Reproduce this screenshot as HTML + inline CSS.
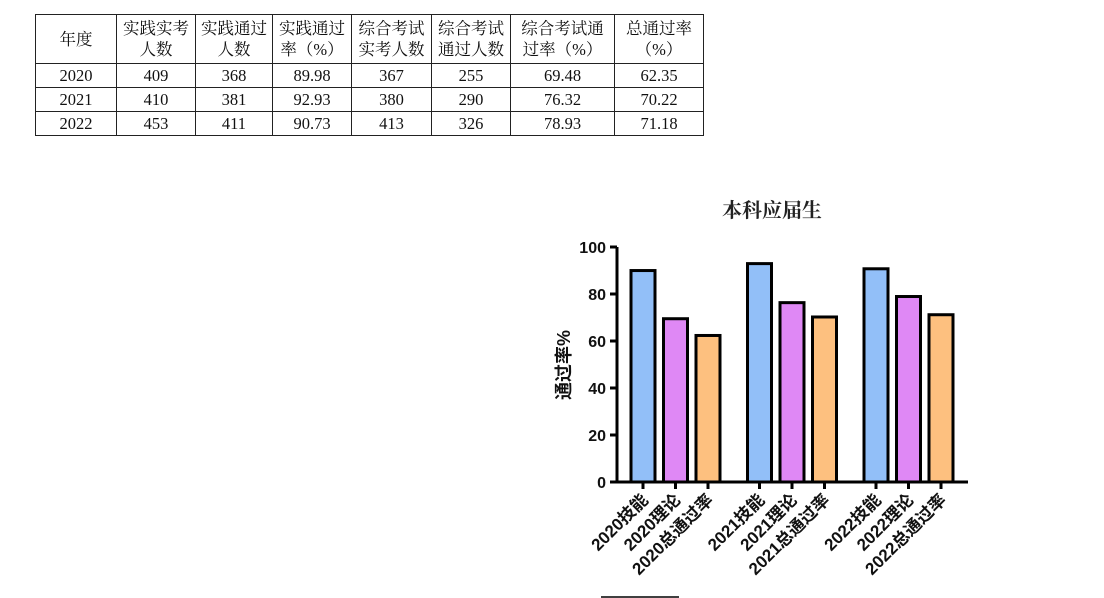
<!DOCTYPE html>
<html><head><meta charset="utf-8"><style>
body{margin:0;width:1104px;height:598px;background:#fff;overflow:hidden;position:relative;font-family:"Liberation Serif","Noto Serif CJK SC",serif}
table{position:absolute;left:35px;top:14px;border-collapse:collapse;font-size:16.5px;color:#111}
td{border:1px solid #222;text-align:center;padding:0;line-height:21px}
</style></head><body>
<table>
<colgroup><col style="width:81px"><col style="width:79px"><col style="width:77px"><col style="width:79px"><col style="width:80px"><col style="width:79px"><col style="width:104px"><col style="width:89px"></colgroup>
<tr style="height:49px"><td>年度</td><td>实践实考<br>人数</td><td>实践通过<br>人数</td><td>实践通过<br>率（%）</td><td>综合考试<br>实考人数</td><td>综合考试<br>通过人数</td><td>综合考试通<br>过率（%）</td><td>总通过率<br>（%）</td></tr>
<tr style="height:24px"><td>2020</td><td>409</td><td>368</td><td>89.98</td><td>367</td><td>255</td><td>69.48</td><td>62.35</td></tr>
<tr style="height:24px"><td>2021</td><td>410</td><td>381</td><td>92.93</td><td>380</td><td>290</td><td>76.32</td><td>70.22</td></tr>
<tr style="height:24px"><td>2022</td><td>453</td><td>411</td><td>90.73</td><td>413</td><td>326</td><td>78.93</td><td>71.18</td></tr>
</table>
<svg id="chart" width="1104" height="598" style="position:absolute;left:0;top:0"></svg>
<script>
const categories=["2020技能","2020理论","2020总通过率","2021技能","2021理论","2021总通过率","2022技能","2022理论","2022总通过率"];
const values=[89.98,69.48,62.35,92.93,76.32,70.22,90.73,78.93,71.18];
const colors=["#92bff8","#df88f5","#fdc07f"];
const yTicks=[0,20,40,60,80,100];
const svg=document.getElementById('chart');
const NS="http://www.w3.org/2000/svg";
const x0=617,y0=482,yTop=247;
function y(v){return y0-(y0-yTop)*v/100;}
function xc(i){const g=Math.floor(i/3),k=i%3;return 643+g*116.5+k*32.5;}
function mk(t,a,txt){const e=document.createElementNS(NS,t);for(const k in a)e.setAttribute(k,a[k]);if(txt!==undefined)e.textContent=txt;svg.appendChild(e);return e;}
let e=mk('text',{x:772,y:217,'text-anchor':'middle','font-size':20,'font-weight':'bold','font-family':'"Liberation Serif","Noto Serif CJK SC",serif',fill:'#222'},'本科应届生');


e=mk('text',{x:0,y:0,transform:'translate(570,365) rotate(-90)','text-anchor':'middle','font-size':18,'font-weight':'bold','font-family':'"Liberation Sans","Noto Sans CJK SC",sans-serif',fill:'#111'},'通过率%');


values.forEach((v,i)=>{
  const r=mk('rect',{x:xc(i)-12,y:y(v),width:24,height:y0-y(v),fill:colors[i%3],stroke:'#000','stroke-width':3});
  
  
  const t=mk('line',{x1:xc(i),x2:xc(i),y1:y0,y2:y0+7,stroke:'#000','stroke-width':3});
  
  
  const l=mk('text',{x:0,y:0,transform:`translate(${xc(i)+6},${y0+19}) rotate(-45)`,'text-anchor':'end','font-size':17,'font-weight':'bold','font-family':'"Liberation Sans","Noto Sans CJK SC",sans-serif',fill:'#111'},categories[i]);
  
  
});
yTicks.forEach(v=>{
  const t=mk('line',{x1:x0-7,x2:x0,y1:y(v),y2:y(v),stroke:'#000','stroke-width':3});
  
  
  const l=mk('text',{x:x0-11,y:y(v)+6,'text-anchor':'end','font-size':16,'font-weight':'bold','font-family':'"Liberation Sans",sans-serif',fill:'#111'},v);
  
  
});
e=mk('line',{x1:x0,x2:x0,y1:yTop,y2:y0+1.5,stroke:'#000','stroke-width':3});


e=mk('line',{x1:x0-1.5,x2:968,y1:y0,y2:y0,stroke:'#000','stroke-width':3});


e=mk('line',{x1:601,x2:679,y1:597,y2:597,stroke:'#000','stroke-width':1.5});


</script>
</body></html>
